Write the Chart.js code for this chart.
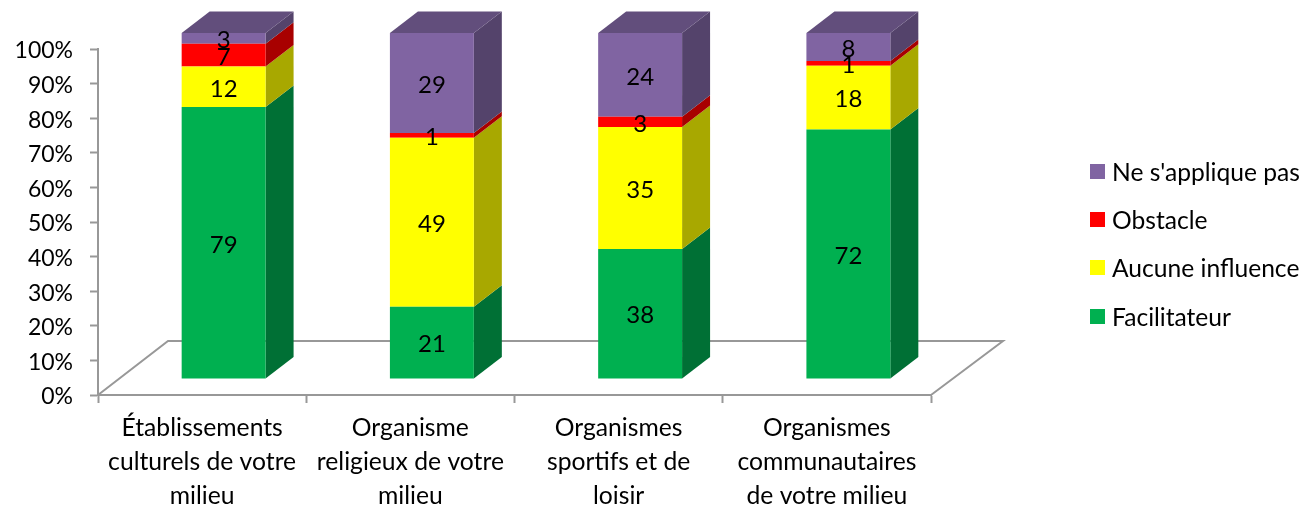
<!DOCTYPE html>
<html>
<head>
<meta charset="utf-8">
<script src="https://cdn.jsdelivr.net/npm/chart.js@4"></script>
<style>
  body { margin: 0; background: #fff; }
  #wrap { position: relative; width: 1303px; height: 505px; overflow: hidden; }
  #legend { position: absolute; left: 1090px; top: 147px; font: 24.6px Lato, sans-serif; color: #000; }
  .item { height: 48.3px; display: flex; align-items: center; white-space: nowrap; }
  .swatch { width: 15px; height: 15px; margin-right: 7px; }
</style>
</head>
<body>
<div id="wrap">
  <canvas id="chart" width="1303" height="505"></canvas>
  <div id="legend"></div>
</div>
<script>
// Categories and shares (%); the labels show them rounded
const categories = [
  ['Établissements', 'culturels de votre', 'milieu'],
  ['Organisme', 'religieux de votre', 'milieu'],
  ['Organismes', 'sportifs et de', 'loisir'],
  ['Organismes', 'communautaires', 'de votre milieu']
];
const facilitateur = [78.6, 20.9, 37.6, 72.1];
const aucuneInfluence = [11.7, 48.8, 35.2, 18.4];
const obstacle = [6.6, 1.4, 3.0, 1.4];
const neSappliquePas = [3.1, 28.9, 24.2, 8.1];
const yTicks = [0, 10, 20, 30, 40, 50, 60, 70, 80, 90, 100];

const seriesNames = ['Facilitateur', 'Aucune influence', 'Obstacle', "Ne s'applique pas"];
const seriesValues = [facilitateur, aucuneInfluence, obstacle, neSappliquePas];
const frontColors = ['#00B050', '#FFFF00', '#FF0000', '#8064A2'];
const sideColors = ['#007035', '#A8A800', '#A80000', '#54436B'];
const topColor = '#624E7C';
const axisColor = '#989898';
const fontFamily = 'Lato, sans-serif';

// Depth of the fake 3D, in pixels
const barShift = { x: 21.5, y: -16 };
const barDepth = { x: 28, y: -21.5 };
const floorDepth = { left: 70, right: 72, y: -54 };

function fillPoly(ctx, points, color) {
  ctx.fillStyle = color;
  ctx.beginPath();
  points.forEach((p, i) => i ? ctx.lineTo(p[0], p[1]) : ctx.moveTo(p[0], p[1]));
  ctx.closePath();
  ctx.fill();
}

const fake3d = {
  id: 'fake3d',
  afterLayout(chart) {
    // Lato sits a little high, nudge the y tick labels down
    chart.scales.y.getLabelItems().forEach(item => { item.options.translation[1] += 2; });
  },
  beforeDatasetsDraw(chart) {
    const ctx = chart.ctx;
    const area = chart.chartArea;
    const zero = chart.scales.y.getPixelForValue(0);

    // Floor of the plot
    ctx.save();
    ctx.strokeStyle = axisColor;
    ctx.lineWidth = 2;
    ctx.beginPath();
    ctx.moveTo(area.left, zero);
    ctx.lineTo(area.left + floorDepth.left, zero + floorDepth.y);
    ctx.lineTo(area.right + floorDepth.right, zero + floorDepth.y);
    ctx.lineTo(area.right, zero);
    ctx.stroke();
    ctx.restore();

    // Bars sit slightly in from the axis; restored in afterDatasetsDraw
    ctx.save();
    ctx.translate(barShift.x, barShift.y);

    seriesValues.forEach((s, i) => {
      chart.getDatasetMeta(i).data.forEach(bar => {
        const r = bar.x + bar.width / 2;
        fillPoly(ctx, [
          [r, bar.y], [r + barDepth.x, bar.y + barDepth.y],
          [r + barDepth.x, bar.base + barDepth.y], [r, bar.base]
        ], sideColors[i]);
      });
    });

    // Top faces, on the last series only
    chart.getDatasetMeta(seriesValues.length - 1).data.forEach(bar => {
      const l = bar.x - bar.width / 2;
      const r = bar.x + bar.width / 2;
      fillPoly(ctx, [
        [l, bar.y], [r, bar.y],
        [r + barDepth.x, bar.y + barDepth.y], [l + barDepth.x, bar.y + barDepth.y]
      ], topColor);
    });
  },
  afterDatasetsDraw(chart) {
    const ctx = chart.ctx;
    // Value labels, still inside the shifted coordinates
    ctx.fillStyle = '#000';
    ctx.font = '24px ' + fontFamily;
    ctx.textAlign = 'center';
    ctx.textBaseline = 'middle';
    seriesValues.forEach((s, i) => {
      chart.getDatasetMeta(i).data.forEach((bar, j) => {
        ctx.fillText(Math.round(s[j]), bar.x, (bar.y + bar.base) / 2 + 2);
      });
    });
    ctx.restore();
  }
};

new Chart(document.getElementById('chart'), {
  type: 'bar',
  data: {
    labels: categories,
    datasets: seriesNames.map((name, i) => ({
      label: name,
      data: seriesValues[i],
      backgroundColor: frontColors[i],
      barPercentage: 0.403,
      categoryPercentage: 1,
      clip: false
    }))
  },
  options: {
    responsive: false,
    animation: false,
    layout: { padding: { top: 49, right: 372, left: 0, bottom: 0 } },
    plugins: { legend: { display: false }, tooltip: { enabled: false } },
    scales: {
      x: {
        stacked: true,
        border: { color: axisColor, width: 2 },
        grid: { drawOnChartArea: false, tickColor: axisColor, tickWidth: 2, tickLength: 8 },
        ticks: {
          color: '#000', padding: 8, maxRotation: 0, autoSkip: false,
          font: { family: fontFamily, size: 24.7, lineHeight: 1.377 }
        },
        afterFit(scale) { scale.height = 110; }
      },
      y: {
        stacked: true,
        min: 0,
        max: 100,
        border: { color: axisColor, width: 2 },
        grid: { drawOnChartArea: false, tickColor: axisColor, tickWidth: 2, tickLength: 8 },
        afterBuildTicks(scale) { scale.ticks = yTicks.map(v => ({ value: v })); },
        ticks: {
          color: '#000', padding: 17,
          font: { family: fontFamily, size: 23 },
          callback: v => v + '%'
        },
        afterFit(scale) { scale.width = 98; }
      }
    }
  },
  plugins: [fake3d]
});

// Legend, top entry is the last series
const legend = document.getElementById('legend');
seriesNames.slice().reverse().forEach((name, k) => {
  const i = seriesNames.length - 1 - k;
  const row = document.createElement('div');
  row.className = 'item';
  const swatch = document.createElement('span');
  swatch.className = 'swatch';
  swatch.style.background = frontColors[i];
  row.appendChild(swatch);
  row.appendChild(document.createTextNode(name));
  legend.appendChild(row);
});
</script>
</body>
</html>
